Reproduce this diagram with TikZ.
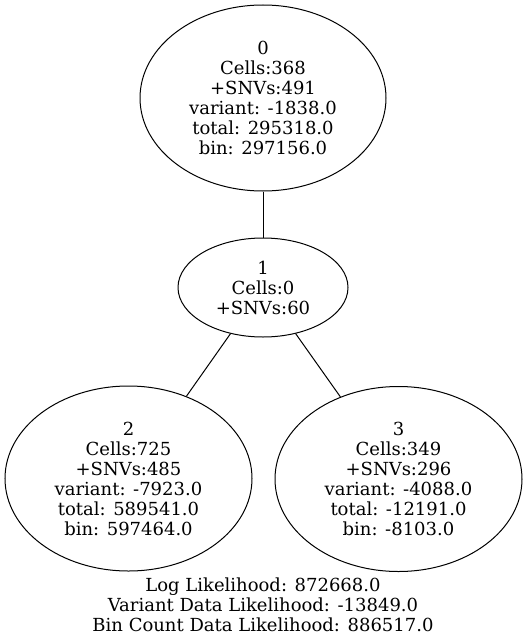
\documentclass[tikz,border=0pt]{standalone}
\usepackage{fontspec}
\setmainfont{DejaVu Serif}
\usetikzlibrary{shapes.geometric}

\begin{document}
\begin{tikzpicture}[
    x=1pt, y=-1pt,
    every node/.style={font=\fontsize{18}{20}\selectfont},
    clone/.style={ellipse, draw=black, line width=1pt, inner sep=0pt, align=center},
    edge/.style={-, line width=1pt}
]
    \useasboundingbox (0,0) rectangle (528,642);
    \node[clone, minimum width=246pt, minimum height=186pt] (n0) at (263,98) {0\\Cells:368\\+SNVs:491\\variant: -1838.0\\total: 295318.0\\bin: 297156.0};
    \node[clone, minimum width=170pt, minimum height=99pt] (n1) at (263,287.5) {1\\Cells:0\\+SNVs:60};
    \node[clone, minimum width=247pt, minimum height=185pt] (n2) at (128.5,478.5) {2\\Cells:725\\+SNVs:485\\variant: -7923.0\\total: 589541.0\\bin: 597464.0};
    \node[clone, minimum width=247pt, minimum height=185pt] (n3) at (398.5,479) {3\\Cells:349\\+SNVs:296\\variant: -4088.0\\total: -12191.0\\bin: -8103.0};
    \node[align=center, inner sep=0pt] (score) at (263,605) {Log Likelihood: 872668.0\\Variant Data Likelihood: -13849.0\\Bin Count Data Likelihood: 886517.0};

    \draw[edge] (n0) -- (n1);
    \draw[edge] (n1) -- (n2);
    \draw[edge] (n1) -- (n3);
\end{tikzpicture}
\end{document}
